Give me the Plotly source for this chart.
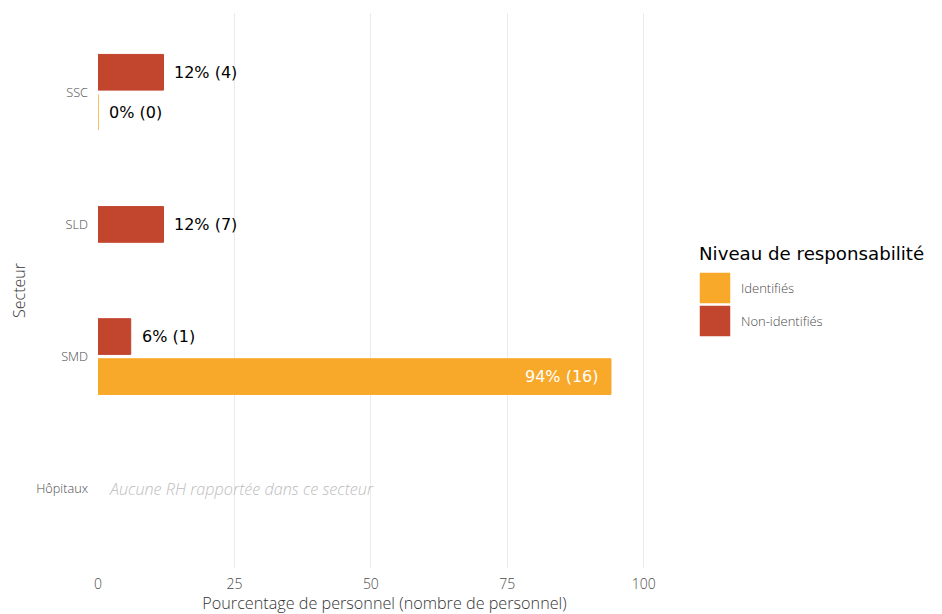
import plotly.graph_objects as go

# ---------------- data ----------------
sectors = ["Hôpitaux", "SMD", "SLD", "SSC"]          # bottom -> top
series_names = ["Identifiés", "Non-identifiés"]
series_colors = ["#F8A92A", "#C2452D"]
identified_pct = [None, 94, None, 0]
identified_n = [None, 16, None, 0]
nonidentified_pct = [None, 6, 12, 12]
nonidentified_n = [None, 1, 7, 4]
x_ticks = [0, 25, 50, 75, 100]
empty_note = "Aucune RH rapportée dans ce secteur"
legend_title = "Niveau de responsabilité"
x_title = "Pourcentage de personnel (nombre de personnel)"
y_title = "Secteur"

series_pct = [identified_pct, nonidentified_pct]
series_n = [identified_n, nonidentified_n]

# ---------------- layout constants (figure coordinates) ----------------
W, H = 934, 606            # page body has an 8px margin
L, R, T, B = 90, 663, 5, 560
X_MAX = 105
SLOT = 0.303
BAR_W = 0.27
TICK_FONT = dict(family="Open Sans", size=12.7, color="#4A4A4A", weight=300)
OFF = 8


def px(x):
    """page pixel x -> paper"""
    return (x - OFF - L) / (R - L)


def py(y):
    """page pixel y -> paper"""
    return (B - (y - OFF)) / (B - T)


# dodge positions: centre the bars present in each sector
positions = [[None] * len(sectors) for _ in series_names]
for i in range(len(sectors)):
    present = [s for s in range(len(series_names)) if series_pct[s][i] is not None]
    for k, s in enumerate(present):
        positions[s][i] = i + (k - (len(present) - 1) / 2) * SLOT

fig = go.Figure()
annotations = []
for s, name in enumerate(series_names):
    xs, ys = [], []
    for i in range(len(sectors)):
        v = series_pct[s][i]
        if v is None:
            continue
        xs.append(v)
        ys.append(positions[s][i])
        label = f"{v}% ({series_n[s][i]})"
        inside = v > 50
        annotations.append(dict(
            x=v, y=positions[s][i], xref="x", yref="y", text=label,
            showarrow=False, xanchor="right" if inside else "left",
            xshift=-10 if inside else 9,
            font=dict(family="DejaVu Sans", size=16,
                      color="white" if inside else "black"),
        ))
    fig.add_trace(go.Bar(
        x=xs, y=ys, orientation="h", width=BAR_W, name=name,
        marker=dict(color=series_colors[s], line=dict(color=series_colors[s], width=1)),
        showlegend=False,
    ))

# empty-sector note
for i in range(len(sectors)):
    if all(series_pct[s][i] is None for s in range(len(series_names))):
        annotations.append(dict(
            x=0, y=i, xref="x", yref="y", text=f"<i>{empty_note}</i>",
            showarrow=False, xanchor="left", xshift=9,
            font=dict(family="Open Sans", size=16.2, color="#BDBDBD", weight=300),
        ))

# manual legend (large keys)
annotations.append(dict(
    x=px(697), y=py(253), xref="paper", yref="paper", text=legend_title,
    showarrow=False, xanchor="left", yanchor="middle",
    font=dict(family="DejaVu Sans", size=18.2, color="black"),
))
shapes = []
for s, name in enumerate(series_names):
    top = 272 + s * 33
    shapes.append(dict(
        type="rect", xref="paper", yref="paper",
        x0=px(699), x1=px(731), y0=py(top), y1=py(top + 32),
        fillcolor=series_colors[s], line=dict(color="white", width=1.5),
    ))
    annotations.append(dict(
        x=px(739), y=py(top + 16), xref="paper", yref="paper", text=name,
        showarrow=False, xanchor="left", yanchor="middle",
        font=dict(family="Open Sans", size=13, color="#4A4A4A", weight=300),
    ))

fig.update_layout(
    width=W, height=H,
    margin=dict(l=L, r=W - R, t=T, b=H - B, pad=0),
    paper_bgcolor="white", plot_bgcolor="white",
    barmode="overlay",
    annotations=annotations, shapes=shapes,
    showlegend=False,
    xaxis=dict(
        range=[0, X_MAX], tickvals=x_ticks, showgrid=True, gridcolor="#EBEBEB",
        gridwidth=1.3, zeroline=False, showline=False, ticks="",
        tickfont=dict(family="Open Sans", size=14, color="#4A4A4A", weight=300),
        ticklabelstandoff=6,
        title=dict(text=x_title, standoff=6,
                   font=dict(family="Open Sans", size=16.2, color="#333333", weight=300)),
        fixedrange=True,
    ),
    yaxis=dict(
        range=[-0.6, 3.6], tickvals=list(range(len(sectors))), ticktext=sectors,
        showgrid=False, zeroline=False, showline=False, ticks="",
        tickfont=TICK_FONT, ticklabelstandoff=9,
        title=dict(text=y_title, standoff=9,
                   font=dict(family="Open Sans", size=16, color="#333333", weight=300)),
        fixedrange=True,
    ),
)

fig.write_html("out.html")
